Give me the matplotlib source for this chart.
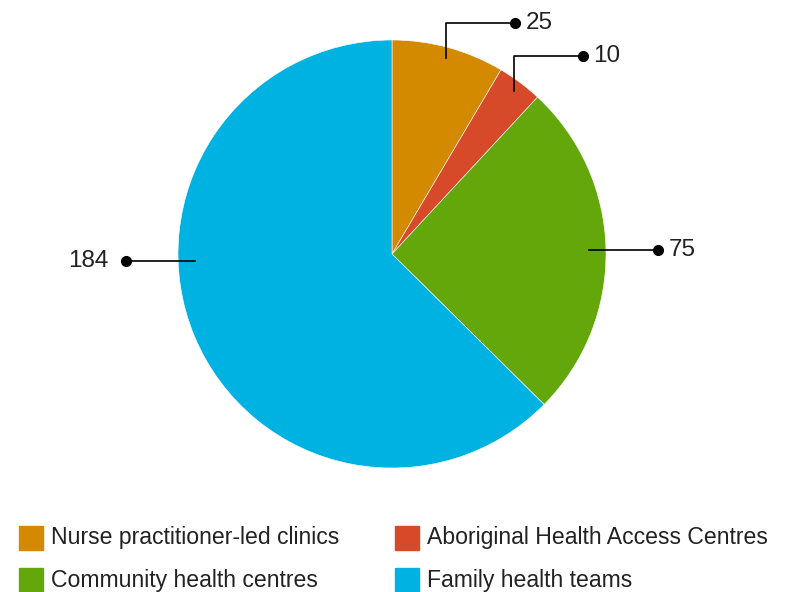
import numpy as np
import matplotlib.pyplot as plt
from matplotlib.patches import Rectangle

plt.rcParams['font.family'] = ['Liberation Sans', 'DejaVu Sans']

labels = ["Nurse practitioner-led clinics", "Aboriginal Health Access Centres",
          "Community health centres", "Family health teams"]
values = [25, 10, 75, 184]
colors = ["#D38A00", "#D64A2A", "#63A70B", "#00B2E2"]

W, H = 790, 592
fig = plt.figure(figsize=(W / 100, H / 100), dpi=100)
ax = fig.add_axes([0, 0, 1, 1])

cx, cy, R = 392, H - 254, 214
wedges, _ = ax.pie(values, colors=colors, startangle=90, counterclock=False,
                   center=(cx, cy), radius=R,
                   wedgeprops=dict(edgecolor='white', linewidth=0.4))
ax.set_xlim(0, W)
ax.set_ylim(0, H)
ax.axis('off')

# leader lines with dots
txtc = "#222222"
for w, v in zip(wedges, values):
    span = (w.theta2 - w.theta1) % 360
    if span > 180:
        theta = 182.0
    else:
        theta = (w.theta1 + w.theta2) / 2
    t = np.deg2rad(theta)
    if np.sin(t) > 0.5:
        x0, y0 = cx + 0.95 * R * np.cos(t), cy + 0.95 * R * np.sin(t)
        xs = [x0, x0, x0 + 69]
        ys = [y0, y0 + 35, y0 + 35]
        side = 1
    else:
        side = 1 if np.cos(t) >= 0 else -1
        x0, y0 = cx + 0.92 * R * np.cos(t), cy + 0.92 * R * np.sin(t)
        xs = [x0, x0 + side * 69]
        ys = [y0, y0]
    ax.plot(xs, ys, color='black', lw=1.2)
    ax.plot(xs[-1], ys[-1], 'o', color='black', ms=7)
    if side > 0:
        ax.text(xs[-1] + 11, ys[-1], str(v), fontsize=17.5, color=txtc,
                ha='left', va='center')
    else:
        ax.text(xs[-1] - 18, ys[-1], str(v), fontsize=17.5, color=txtc,
                ha='right', va='center')

# legend, two columns
for i, (lab, c) in enumerate(zip(labels, colors)):
    col, row = i % 2, i // 2
    x = 19 + col * 376
    y = H - (537.5 + row * 42.5)
    ax.add_patch(Rectangle((x, y - 12), 24, 24, color=c))
    ax.text(x + 32, y, lab, fontsize=16.6, color=txtc, ha='left', va='center')

fig.savefig("out.png", dpi=100)
